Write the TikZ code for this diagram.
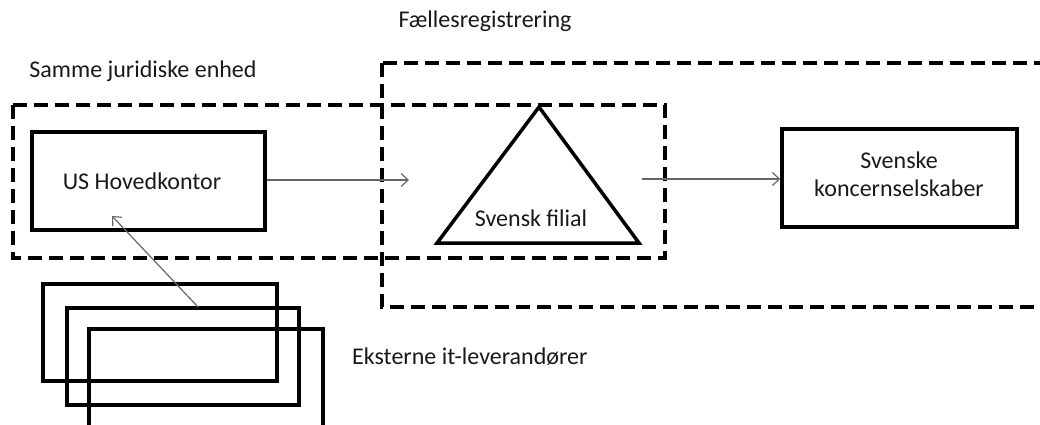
\documentclass[tikz,border=0pt]{standalone}
\usepackage{fontspec}
\setmainfont{Carlito}
\usetikzlibrary{arrows.meta}
\begin{document}
\begin{tikzpicture}[x=1pt,y=-1pt,
  dbox/.style={draw=black,line width=3.5pt,dash pattern=on 14pt off 7pt},
  sbox/.style={draw=black,line width=3.5pt,inner sep=0pt},
  conn/.style={draw=black!60,line width=1.2pt,-{Straight Barb[length=7pt,width=13pt,line width=1.2pt]}},
  lbl/.style={font=\fontsize{24}{28}\selectfont,text=black!90,inner sep=0pt,align=center}]
\useasboundingbox (0,0) rectangle (1040,425);
\clip (0,0) rectangle (1040,425);
% group frames
\draw[dbox] (382,63) rectangle (1080,307);
\draw[dbox] (13,105) rectangle (665,258);
% labels of frames
\node[lbl] (faelles) at (485,21) {Fællesregistrering};
\node[lbl] (samme) at (143,71) {Samme juridiske enhed};
% boxes
\node[sbox,minimum width=233pt,minimum height=98pt] (us) at (148.5,181) {};
\node[lbl] (ustext) at (142,181) {US Hovedkontor};
\node[sbox,minimum width=235pt,minimum height=98pt] (ks) at (899.5,178) {};
\node[lbl] (kstext) at (899,174) {Svenske\\koncernselskaber};
% triangle
\coordinate (tA) at (539,107);
\coordinate (tB) at (639,243);
\coordinate (tC) at (437,243);
\draw[sbox,line join=miter] (tA) -- (tB) -- (tC) -- cycle;
\node[lbl] (filial) at (531,218) {Svensk filial};
% external suppliers
\node[sbox,minimum width=234pt,minimum height=97pt] (e1) at (160,332.5) {};
\node[sbox,minimum width=232pt,minimum height=97pt] (e2) at (183,356.5) {};
\node[sbox,minimum width=234pt,minimum height=110pt] (e3) at (206,384) {};
\node[lbl,anchor=west] (ext) at (352,357) {Eksterne it-leverandører};
% connectors
\coordinate (a1end) at (409,180);
\draw[conn] (us.east |- a1end) -- (a1end);
\coordinate (a2start) at (642,179);
\draw[conn] (a2start) -- (a2start -| ks.west);
\coordinate (a3start) at (198,307);
\coordinate (a3end) at (112,216);
\draw[conn] (a3start) -- (a3end);
\end{tikzpicture}
\end{document}
